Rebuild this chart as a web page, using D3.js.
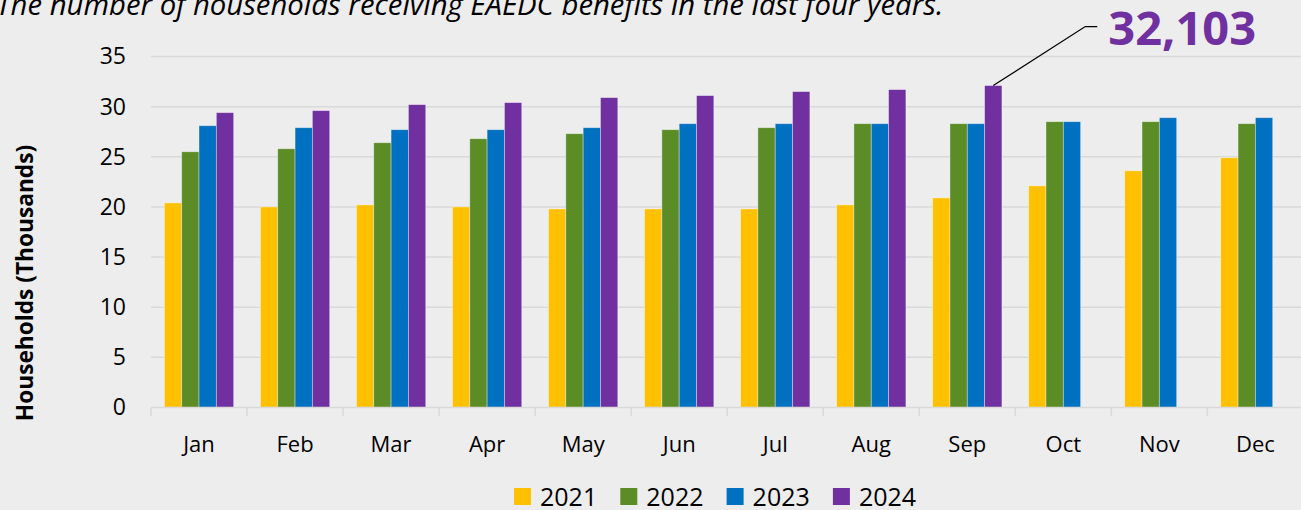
<!DOCTYPE html>
<meta charset="utf-8">
<script src="https://d3js.org/d3.v7.min.js"></script>
<style>
body { margin: 0; background: #ededed; }
svg { display: block; background: #ededed; }
.grid line { stroke: #d9d9d9; stroke-width: 1.5px; }
.axis text { font-family: "Open Sans", sans-serif; fill: #000; }
.title { font: italic 29.3px "Open Sans", sans-serif; }
</style>
<body>
<script>

// data (thousands of households)
var months = ["Jan","Feb","Mar","Apr","May","Jun","Jul","Aug","Sep","Oct","Nov","Dec"];
var years = ["2021","2022","2023","2024"];
var colors = ["#FFC000","#5B8C25","#0070C0","#7030A0"];

var v2021 = [20.4, 20.0, 20.2, 20.0, 19.8, 19.8, 19.8, 20.2, 20.9, 22.1, 23.6, 24.9];
var v2022 = [25.5, 25.8, 26.4, 26.8, 27.3, 27.7, 27.9, 28.3, 28.3, 28.5, 28.5, 28.3];
var v2023 = [28.1, 27.9, 27.7, 27.7, 27.9, 28.3, 28.3, 28.3, 28.3, 28.5, 28.9, 28.9];
var v2024 = [29.4, 29.6, 30.2, 30.4, 30.9, 31.1, 31.5, 31.7, 32.103, null, null, null];

var yTicks = [0, 5, 10, 15, 20, 25, 30, 35];
var titleText = "The number of households receiving EAEDC benefits in the last four years.";
var yTitle = "Households (Thousands)";
var callout = { month: "Sep", year: "2024", label: "32,103" };

var series = [v2021, v2022, v2023, v2024];
var rows = [];
months.forEach(function(m, i) {
  years.forEach(function(y, j) {
    if (series[j][i] != null) rows.push({ month: m, year: y, value: series[j][i], color: colors[j] });
  });
});

var W = 1301, H = 510;
var svg = d3.select("body").append("svg")
  .attr("width", W)
  .attr("height", H);

var x0 = d3.scaleBand().domain(months).range([151, 1303.4]);
var x1 = d3.scaleBand().domain(years).range([0, 69.3]);
var groupOff = (x0.bandwidth() - 69.3) / 2;

var y = d3.scaleLinear().domain([0, 35]).range([407.5, 56.5]);

// title (cut off at the top-left edge, as in the source)
svg.append("text")
  .attr("class", "title")
  .attr("x", -4)
  .attr("y", 15)
  .text(titleText);

// gridlines
svg.append("g").attr("class", "grid")
  .selectAll("line")
  .data(yTicks.filter(function(d) { return d > 0; }))
  .enter().append("line")
  .attr("x1", 151).attr("x2", W)
  .attr("y1", function(d) { return y(d); })
  .attr("y2", function(d) { return y(d); });

// y axis labels
var yAxis = d3.axisLeft(y).tickValues(yTicks).tickSize(0).tickPadding(0);
svg.append("g")
  .attr("class", "axis y")
  .attr("transform", "translate(126,0)")
  .call(yAxis)
  .call(function(g) { g.select(".domain").remove(); })
  .selectAll("text")
  .style("font-size", "23px");

// y title
svg.append("text")
  .attr("transform", "translate(33,283) rotate(-90)")
  .attr("text-anchor", "middle")
  .style("font", "bold 22.7px 'Open Sans', sans-serif")
  .text(yTitle);

// bars
svg.append("g").selectAll("rect")
  .data(rows)
  .enter().append("rect")
  .attr("x", function(d) { return x0(d.month) + groupOff + x1(d.year); })
  .attr("width", x1.bandwidth())
  .attr("y", function(d) { return y(d.value); })
  .attr("height", function(d) { return y(0) - y(d.value); })
  .attr("fill", function(d) { return d.color; })
  .attr("stroke", "rgba(255,255,255,0.45)")
  .attr("stroke-width", 0.8);

// x axis
var xAxis = d3.axisBottom(x0).tickSize(0).tickPadding(0);
var gx = svg.append("g")
  .attr("class", "axis x")
  .attr("transform", "translate(0," + y(0) + ")")
  .call(xAxis);
gx.select(".domain").remove();
gx.selectAll("text").attr("dy", 0).attr("y", 44).style("font-size", "22px");

svg.append("line")
  .attr("x1", 151).attr("x2", W)
  .attr("y1", y(0)).attr("y2", y(0))
  .attr("stroke", "#d9d9d9").attr("stroke-width", 1.5);
svg.append("g").selectAll("line")
  .data(months)
  .enter().append("line")
  .attr("x1", function(d) { return x0(d); })
  .attr("x2", function(d) { return x0(d); })
  .attr("y1", y(0)).attr("y2", y(0) + 8.5)
  .attr("stroke", "#d9d9d9").attr("stroke-width", 1.5);

// callout
var cx = x0(callout.month) + groupOff + x1(callout.year) + x1.bandwidth() / 2;
var cy = y(v2024[months.indexOf(callout.month)]);
svg.append("path")
  .attr("d", "M" + cx + "," + cy + "L" + (cx + 92) + "," + (cy - 59) + "h12")
  .attr("fill", "none")
  .attr("stroke", "#000")
  .attr("stroke-width", 1.3);
svg.append("text")
  .attr("x", cx + 115)
  .attr("y", cy - 41)
  .style("font", "bold 47px 'Open Sans', sans-serif")
  .attr("fill", colors[3])
  .text(callout.label);

// legend
var legend = svg.append("g").selectAll("g")
  .data(years)
  .enter().append("g")
  .attr("transform", function(d, i) { return "translate(" + (514 + i * 106.3) + ",488)"; });
legend.append("rect")
  .attr("width", 17).attr("height", 17)
  .attr("fill", function(d, i) { return colors[i]; });
legend.append("text")
  .attr("x", 26).attr("y", 18)
  .style("font", "25px 'Open Sans', sans-serif")
  .text(function(d) { return d; });

</script>
</body>
